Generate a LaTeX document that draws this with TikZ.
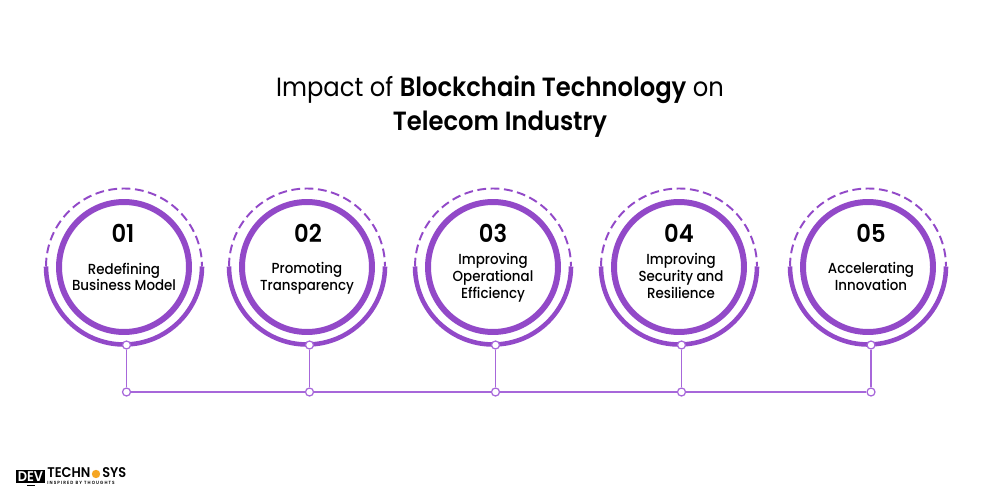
\documentclass[tikz,border=0pt]{standalone}
\usepackage{fontspec}
\setmainfont[FakeStretch=0.92,BoldFont={Poppins SemiBold}]{Poppins}
\newfontfamily\medfont[FakeStretch=0.92]{Poppins Medium}
\definecolor{ringpurple}{HTML}{9249C8}
\definecolor{linepurple}{HTML}{A767DA}
\definecolor{gearorange}{HTML}{F5A623}
\tikzset{
    x=0.02cm, y=-0.02cm,
    ring/.style={circle, draw=ringpurple, line width=3.4pt, minimum size=2.6cm, inner sep=0pt},
    outerarc/.style={draw=ringpurple, line width=2.6pt},
    dasharc/.style={draw=ringpurple, line width=1.1pt, dash pattern=on 5pt off 2.6pt},
    joint/.style={circle, draw=linepurple, fill=white, line width=0.7pt, minimum size=0.16cm, inner sep=0pt},
    link/.style={draw=linepurple, line width=0.8pt},
    number/.style={font=\fontsize{14}{14}\selectfont\bfseries},
    caption/.style={font=\fontsize{8.3}{9.6}\selectfont\medfont, align=center},
    title/.style={font=\fontsize{15}{19.2}\selectfont, align=center}
}
\begin{document}
\begin{tikzpicture}
        \useasboundingbox (0,0) rectangle (1000,500);
        % heading
        \node[title] (heading) at (500,106.5) {Impact of \textbf{Blockchain Technology} on\\\textbf{Telecom Industry}};
        % first circle
        \node[ring] (ring1) at (124,267) {};
        \draw[outerarc] (46,266.5) arc (180:0:78);
        \draw[dasharc] (46,266.5) arc (180:360:78);
        \node[number] (num1) at (123,233) {01};
        \node[caption] (text1) at (124,277) {Redefining\\Business Model};
        % second circle
        \node[ring] (ring2) at (307,267) {};
        \draw[outerarc] (229,266.5) arc (180:0:78);
        \draw[dasharc] (229,266.5) arc (180:360:78);
        \node[number] (num2) at (308,233) {02};
        \node[caption] (text2) at (307,278) {Promoting\\Transparency};
        % third circle
        \node[ring] (ring3) at (493,267) {};
        \draw[outerarc] (415,266.5) arc (180:0:78);
        \draw[dasharc] (415,266.5) arc (180:360:78);
        \node[number] (num3) at (493,233) {03};
        \node[caption] (text3) at (493,278) {Improving\\Operational\\Efficiency};
        % fourth circle
        \node[ring] (ring4) at (679,267) {};
        \draw[outerarc] (601,266.5) arc (180:0:78);
        \draw[dasharc] (601,266.5) arc (180:360:78);
        \node[number] (num4) at (679,233) {04};
        \node[caption] (text4) at (681,276) {Improving\\Security and\\Resilience};
        % fifth circle
        \node[ring] (ring5) at (868,267) {};
        \draw[outerarc] (790,266.5) arc (180:0:78);
        \draw[dasharc] (790,266.5) arc (180:360:78);
        \node[number] (num5) at (871,233) {05};
        \node[caption] (text5) at (871,276.5) {Accelerating\\Innovation};
        % joints on the circles and on the base line
        \node[joint] (top1) at (126.5,345) {};
        \node[joint] (top2) at (309.5,345) {};
        \node[joint] (top3) at (495.5,345) {};
        \node[joint] (top4) at (681.5,345) {};
        \node[joint] (top5) at (871,345) {};
        \node[joint] (base1) at (126.5,392) {};
        \node[joint] (base2) at (309.5,392) {};
        \node[joint] (base3) at (495.5,392) {};
        \node[joint] (base4) at (681.5,392) {};
        \node[joint] (base5) at (871,392) {};
        % connectors
        \draw[link] (top1) -- (base1);
        \draw[link] (top2) -- (base2);
        \draw[link] (top3) -- (base3);
        \draw[link] (top4) -- (base4);
        \draw[link] (top5) -- (base5);
        \draw[link] (base1) -- (base2);
        \draw[link] (base2) -- (base3);
        \draw[link] (base3) -- (base4);
        \draw[link] (base4) -- (base5);
        % logo
        \fill (16,470) rectangle (45,483);
        \draw[line width=0.8pt] (27,485.5) -- (35,485.5);
        \node[text=white, font=\fontsize{8}{8}\selectfont\bfseries, inner sep=0pt] (logodev) at (30.5,476.5) {DEV};
        \node[anchor=west, font=\fontsize{8}{8}\selectfont\bfseries, inner sep=0pt] (logotech) at (47,473) {TECHN};
        \fill[gearorange] (96,474) circle (4.2);
        \node[anchor=west, font=\fontsize{8}{8}\selectfont\bfseries, inner sep=0pt] (logosys) at (102,473) {SYS};
        \node[anchor=west, font=\fontsize{2.6}{3}\selectfont\bfseries\addfontfeature{LetterSpace=24}, inner sep=0pt] (logotag) at (47,483) {INSPIRED BY THOUGHTS};
\end{tikzpicture}
\end{document}
